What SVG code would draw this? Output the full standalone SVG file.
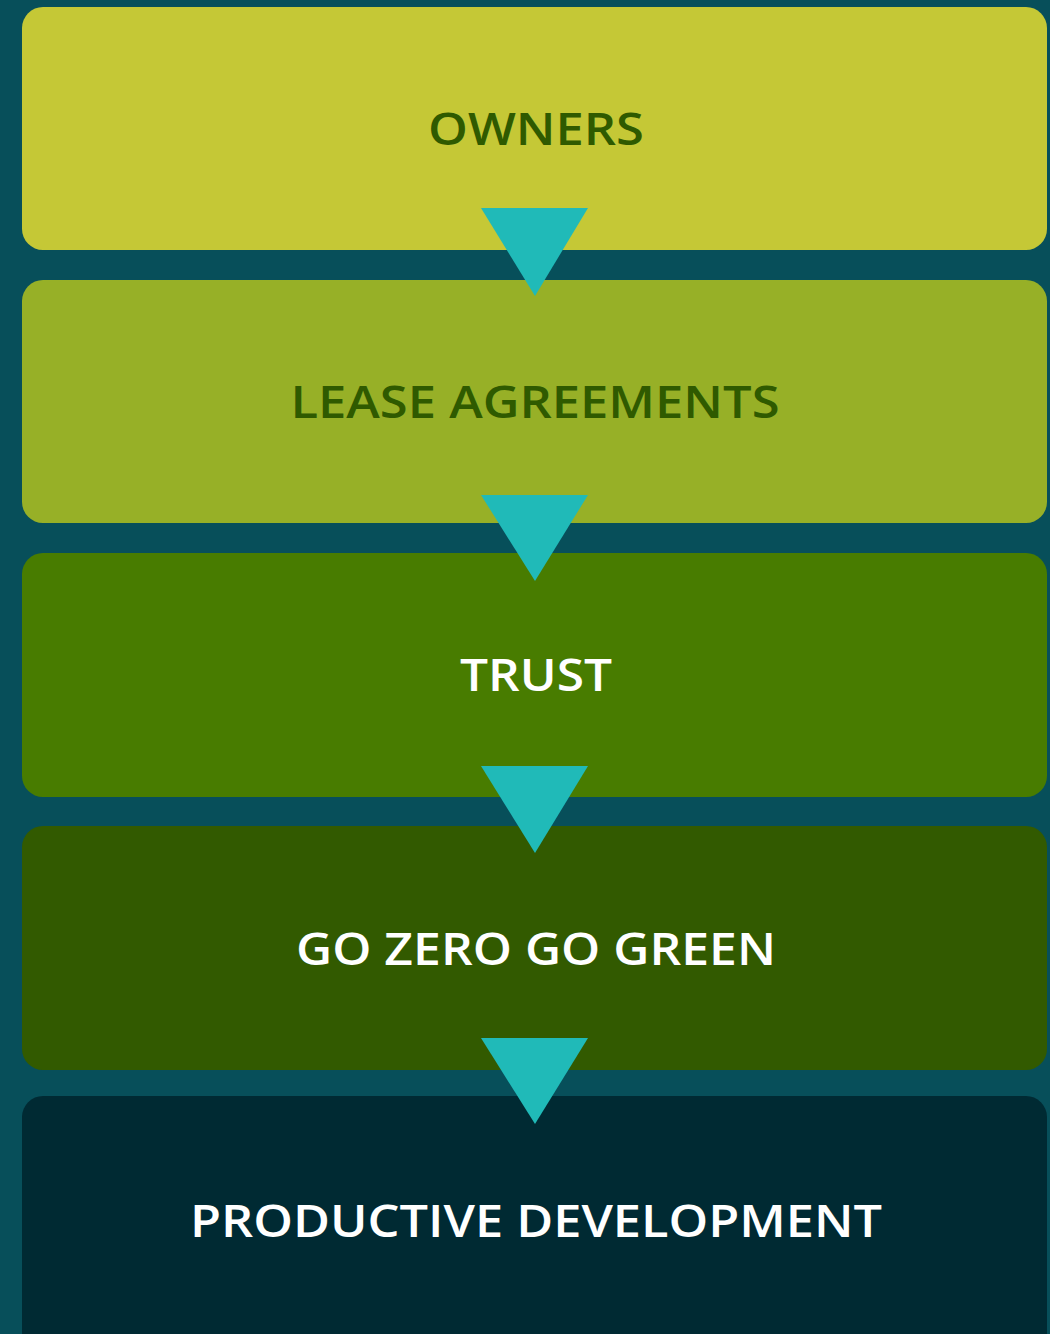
<svg xmlns="http://www.w3.org/2000/svg" width="1050" height="1334" viewBox="0 0 1050 1334">
  <style>
    .box { stroke: none; }
    .label { font-family: "Open Sans", "Liberation Sans", sans-serif; font-weight: 600; font-size: 45px; text-anchor: middle; }
    .dark { fill: #2f5a00; }
    .light { fill: #ffffff; }
    .arrow { fill: #20bab8; }
  </style>
  <rect x="0" y="0" width="1050" height="1334" fill="#074f5a"/>

  <g id="owners">
    <rect class="box" x="22" y="7" width="1025" height="243" rx="21" fill="#c5c836"/>
    <text class="label dark" x="536" y="145" textLength="216" lengthAdjust="spacingAndGlyphs">OWNERS</text>
  </g>
  <g id="lease-agreements">
    <rect class="box" x="22" y="280" width="1025" height="243" rx="21" fill="#97b027"/>
    <text class="label dark" x="535" y="418" textLength="489" lengthAdjust="spacingAndGlyphs">LEASE AGREEMENTS</text>
  </g>
  <g id="trust">
    <rect class="box" x="22" y="553" width="1025" height="244" rx="21" fill="#487c00"/>
    <text class="label light" x="536" y="691" textLength="152" lengthAdjust="spacingAndGlyphs">TRUST</text>
  </g>
  <g id="go-zero-go-green">
    <rect class="box" x="22" y="826" width="1025" height="244" rx="21" fill="#325a00"/>
    <text class="label light" x="536" y="965" textLength="480" lengthAdjust="spacingAndGlyphs">GO ZERO GO GREEN</text>
  </g>
  <g id="productive-development">
    <rect class="box" x="22" y="1096" width="1025" height="260" rx="21" fill="#002a33"/>
    <text class="label light" x="536" y="1237" textLength="692" lengthAdjust="spacingAndGlyphs">PRODUCTIVE DEVELOPMENT</text>
  </g>

  <g id="connectors">
    <polygon class="arrow" points="481,208 588,208 535,296"/>
    <polygon class="arrow" points="481,495 588,495 535,581"/>
    <polygon class="arrow" points="481,766 588,766 535,853"/>
    <polygon class="arrow" points="481,1038 588,1038 535,1124"/>
  </g>
</svg>
